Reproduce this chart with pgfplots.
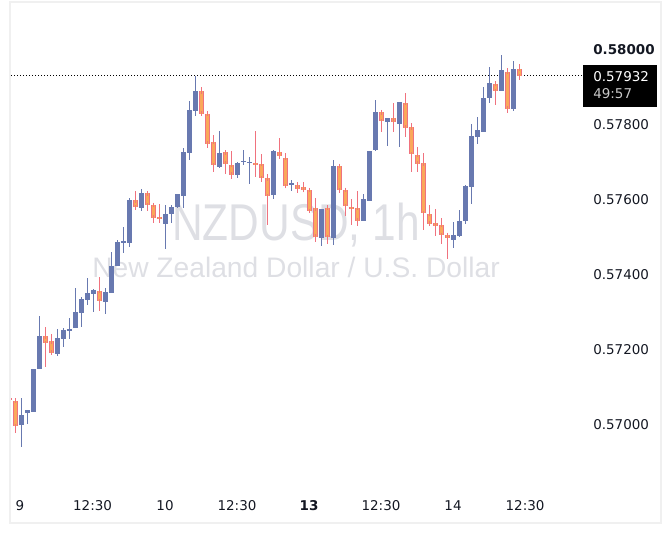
\documentclass[border=0pt]{standalone}
\usepackage{pgfplots}
\pgfplotsset{compat=1.18}
\usepackage{pgfplotstable}
\usepackage{fontspec}
\setmainfont{DejaVu Sans}
\newfontfamily\wmfont{Liberation Sans}
\definecolor{bull}{RGB}{104,121,176}
\definecolor{bearfill}{RGB}{250,168,90}
\definecolor{bearedge}{RGB}{240,114,126}
\definecolor{tvtext}{RGB}{19,23,34}
\definecolor{wm}{RGB}{222,223,228}
\definecolor{framec}{RGB}{240,240,240}
\definecolor{timec}{RGB}{200,200,200}

\pgfplotstableread{
k o h l c
2 0.56999 0.57072 0.56942 0.57027
3 0.57033 0.57040 0.57003 0.57040
4 0.57035 0.57150 0.57035 0.57150
5 0.57150 0.57291 0.57150 0.57237
8 0.57190 0.57256 0.57185 0.57232
9 0.57230 0.57259 0.57209 0.57255
10 0.57253 0.57285 0.57229 0.57258
11 0.57260 0.57365 0.57260 0.57301
12 0.57299 0.57341 0.57262 0.57336
13 0.57334 0.57392 0.57321 0.57354
14 0.57351 0.57363 0.57302 0.57360
16 0.57329 0.57365 0.57295 0.57355
17 0.57353 0.57461 0.57353 0.57424
18 0.57424 0.57493 0.57424 0.57488
19 0.57489 0.57528 0.57458 0.57491
20 0.57486 0.57605 0.57475 0.57600
22 0.57581 0.57629 0.57571 0.57619
26 0.57535 0.57587 0.57470 0.57563
27 0.57562 0.57587 0.57539 0.57581
28 0.57582 0.57616 0.57581 0.57616
29 0.57613 0.57739 0.57579 0.57731
30 0.57726 0.57864 0.57707 0.57840
31 0.57838 0.57931 0.57825 0.57891
35 0.57689 0.57784 0.57687 0.57728
38 0.57667 0.57701 0.57660 0.57701
39 0.57702 0.57733 0.57693 0.57705
40 0.57701 0.57715 0.57643 0.57703
44 0.57614 0.57733 0.57604 0.57731
47 0.57641 0.57653 0.57623 0.57648
52 0.57499 0.57577 0.57477 0.57577
54 0.57499 0.57707 0.57480 0.57691
59 0.57545 0.57617 0.57545 0.57603
60 0.57600 0.57731 0.57600 0.57731
61 0.57733 0.57867 0.57731 0.57834
63 0.57809 0.57819 0.57745 0.57819
65 0.57803 0.57861 0.57742 0.57861
74 0.57495 0.57541 0.57471 0.57509
75 0.57504 0.57573 0.57502 0.57544
76 0.57544 0.57641 0.57536 0.57638
77 0.57635 0.57803 0.57589 0.57773
78 0.57769 0.57821 0.57750 0.57787
79 0.57782 0.57901 0.57782 0.57872
80 0.57873 0.57955 0.57859 0.57912
82 0.57891 0.57987 0.57891 0.57947
84 0.57843 0.57971 0.57837 0.57951
}\bulldata

\pgfplotstableread{
k o h l c
0 0.57072 0.57077 0.57061 0.57067
1 0.57066 0.57071 0.56980 0.56999
6 0.57237 0.57261 0.57155 0.57218
7 0.57224 0.57243 0.57187 0.57194
15 0.57359 0.57395 0.57305 0.57330
21 0.57600 0.57624 0.57581 0.57581
23 0.57619 0.57624 0.57571 0.57587
24 0.57587 0.57591 0.57538 0.57553
25 0.57555 0.57589 0.57538 0.57549
32 0.57891 0.57901 0.57825 0.57831
33 0.57831 0.57831 0.57739 0.57751
34 0.57755 0.57773 0.57675 0.57693
36 0.57728 0.57733 0.57670 0.57698
37 0.57696 0.57730 0.57657 0.57669
41 0.57701 0.57784 0.57662 0.57695
42 0.57696 0.57723 0.57647 0.57658
43 0.57658 0.57669 0.57534 0.57611
45 0.57728 0.57765 0.57715 0.57717
46 0.57714 0.57725 0.57637 0.57639
48 0.57642 0.57648 0.57618 0.57631
49 0.57634 0.57648 0.57623 0.57627
50 0.57627 0.57630 0.57567 0.57571
51 0.57577 0.57606 0.57488 0.57502
53 0.57579 0.57587 0.57483 0.57501
55 0.57691 0.57693 0.57624 0.57626
56 0.57627 0.57627 0.57558 0.57583
57 0.57584 0.57603 0.57534 0.57577
58 0.57581 0.57625 0.57530 0.57546
62 0.57834 0.57837 0.57782 0.57810
64 0.57819 0.57859 0.57782 0.57809
66 0.57861 0.57885 0.57767 0.57794
67 0.57794 0.57805 0.57674 0.57722
68 0.57722 0.57741 0.57674 0.57698
69 0.57698 0.57725 0.57520 0.57565
70 0.57565 0.57587 0.57532 0.57538
71 0.57538 0.57575 0.57505 0.57532
72 0.57533 0.57553 0.57482 0.57506
73 0.57507 0.57507 0.57442 0.57500
81 0.57909 0.57917 0.57854 0.57891
83 0.57944 0.57951 0.57833 0.57845
85 0.57951 0.57962 0.57920 0.57932
}\beardata

\pgfplotsset{
  nomark/.style={error bars/error mark=-, error bars/error mark options={draw=none, fill=none, mark size=0pt}},
}

\begin{document}
\begin{tikzpicture}
\path[use as bounding box] (0,0) rectangle (502.5pt,-402pt);
\begin{axis}[
  at={(8.25pt,-367.5pt)}, anchor=south west,
  scale only axis, width=429.75pt, height=365.25pt,
  xmin=0.283, xmax=95.78, ymin=0.568267, ymax=0.581253,
  axis line style={draw=none},
  major tick length=0pt,
  ytick={0.570,0.572,0.574,0.576,0.578,0.580},
  yticklabels={0.57000,0.57200,0.57400,0.57600,0.57800,\textbf{0.58000}},
  yticklabel pos=right,
  yticklabel style={anchor=west, inner sep=0pt, xshift=6.75pt},
  xtick={1.78,13.87,25.95,37.95,49.95,61.95,73.95,85.95},
  xticklabels={9,12:30,10,12:30,\textbf{13},12:30,14,12:30},
  xticklabel style={anchor=base, inner sep=0pt, yshift=-15pt},
  ticklabel style={font=\fontsize{10.1pt}{12pt}\selectfont, text=tvtext},
]
\node[font=\wmfont\fontsize{38.8pt}{40pt}\selectfont, text=wm, anchor=base, xscale=0.82, inner sep=0pt] at (axis cs:47.78,0.574915) {NZDUSD, 1h};
\node[font=\wmfont\fontsize{21.15pt}{24pt}\selectfont, text=wm, anchor=base, inner sep=0pt] at (axis cs:47.78,0.573939) {New Zealand Dollar / U.S. Dollar};
\draw[black, line width=0.75pt, dash pattern=on 0.75pt off 1.5pt] (axis cs:0.283,0.57932) -- (axis cs:95.78,0.57932);
% bullish wicks and bodies
\addplot[draw=none, mark=none, nomark, error bars/.cd, y dir=both, y explicit,
  error bar style={draw=bull, line width=0.75pt}]
  table[x=k, y=o, y error plus expr=\thisrow{h}-\thisrow{o}, y error minus expr=\thisrow{o}-\thisrow{l}] {\bulldata};
\addplot[draw=none, mark=none, nomark, error bars/.cd, y dir=both, y explicit,
  error bar style={draw=bull, line width=3.5pt}]
  table[x=k, y expr=(\thisrow{o}+\thisrow{c})/2, y error expr=abs(\thisrow{c}-\thisrow{o})/2] {\bulldata};
% bearish wicks and bodies
\addplot[draw=none, mark=none, nomark, error bars/.cd, y dir=both, y explicit,
  error bar style={draw=bearedge, line width=0.75pt}]
  table[x=k, y=o, y error plus expr=\thisrow{h}-\thisrow{o}, y error minus expr=\thisrow{o}-\thisrow{l}] {\beardata};
\addplot[draw=none, mark=none, nomark, error bars/.cd, y dir=both, y explicit,
  error bar style={draw=bearedge, line width=3.5pt}]
  table[x=k, y expr=(\thisrow{o}+\thisrow{c})/2, y error expr=abs(\thisrow{c}-\thisrow{o})/2] {\beardata};
\addplot[draw=none, mark=none, error bars/.cd, y dir=both, y explicit, error mark=-,
  error mark options={draw=bearedge, fill=none, line width=0.75pt, mark size=1.75pt},
  error bar style={draw=bearfill, line width=2pt}]
  table[x=k, y expr=(\thisrow{o}+\thisrow{c})/2, y error expr=abs(\thisrow{c}-\thisrow{o})/2] {\beardata};
\end{axis}
\begin{scope}[x=0.75pt,y=-0.75pt]
\draw[framec, line width=1.5pt] (10,2) rectangle (660.5,523);
\fill[black] (583,65) rectangle (656.5,107);
\node[anchor=west, inner sep=0pt, text=white, font=\fontsize{10.1pt}{12pt}\selectfont] at (593,77) {0.57932};
\node[anchor=west, inner sep=0pt, text=timec, font=\fontsize{10.1pt}{12pt}\selectfont] at (593,94) {49:57};
\end{scope}
\end{tikzpicture}
\end{document}
